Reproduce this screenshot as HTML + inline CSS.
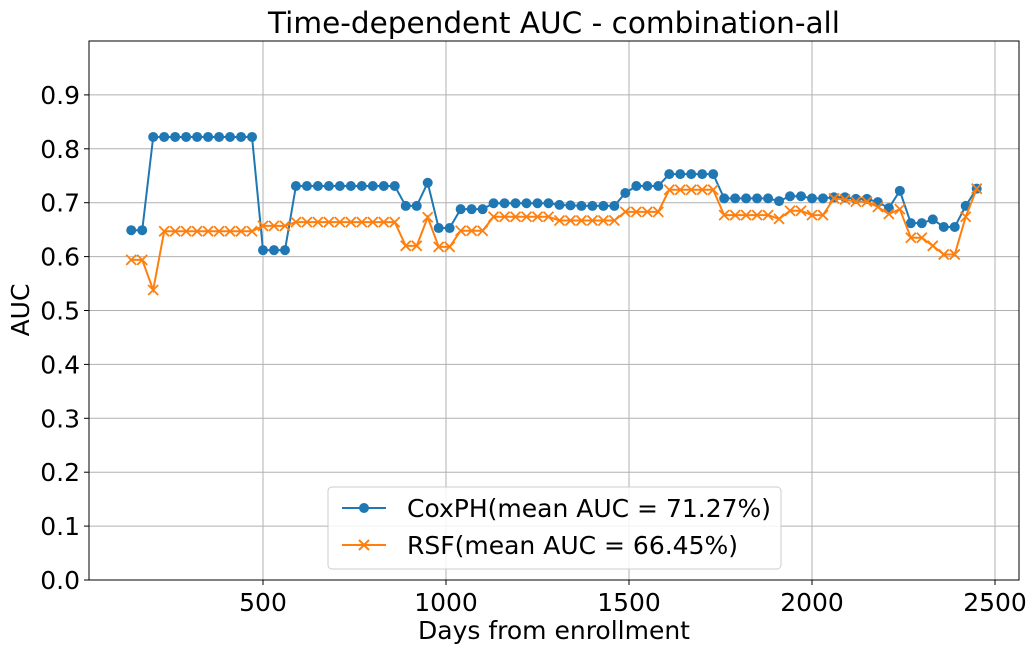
<!DOCTYPE html>
<html><head><meta charset="utf-8"><style>
html,body{margin:0;padding:0;background:#fff;}
svg text{font-family:"DejaVu Sans","Liberation Sans",sans-serif;fill:#000;}
</style></head><body>
<svg id="chart" width="1036" height="653" xmlns="http://www.w3.org/2000/svg">
<rect width="1036" height="653" fill="#fff"/>
<g id="grid"></g>
<g id="series"></g>
<rect x="89" y="41" width="930" height="539" fill="none" stroke="#000" stroke-width="1"/>
<g id="ticks"></g>
<text x="554" y="33" text-anchor="middle" font-size="29.5">Time-dependent AUC - combination-all</text>
<text x="554" y="639" text-anchor="middle" font-size="25">Days from enrollment</text>
<text transform="translate(29,310) rotate(-90)" text-anchor="middle" font-size="25">AUC</text>
<g id="legend">
<rect x="328" y="487" width="453" height="82" rx="4" fill="#fff" fill-opacity="0.85" stroke="#ccc"/>
<line x1="342" y1="508" x2="386" y2="508" stroke="#1f77b4" stroke-width="2"/>
<circle cx="364" cy="508" r="5" fill="#1f77b4"/>
<text x="407" y="517" font-size="25">CoxPH(mean AUC = 71.27%)</text>
<line x1="342" y1="545" x2="386" y2="545" stroke="#ff7f0e" stroke-width="2"/>
<path d="M359,540 L369,550 M369,540 L359,550" stroke="#ff7f0e" stroke-width="2"/>
<text x="407" y="554" font-size="25">RSF(mean AUC = 66.45%)</text>
</g>
</svg>
<script>
const startDay = 140;
const stepDay = 30;
const coxValues = [0.649,0.649,0.822,0.822,0.822,0.822,0.822,0.822,0.822,0.822,0.822,0.822,
0.612,0.612,0.612,0.731,0.731,0.731,0.731,0.731,0.731,0.731,0.731,0.731,0.731,
0.694,0.694,0.737,0.653,0.653,0.688,0.688,0.688,0.699,0.699,0.699,0.699,0.699,0.699,
0.696,0.695,0.694,0.694,0.694,0.694,0.718,0.731,0.731,0.731,0.753,0.753,0.753,0.753,0.753,
0.708,0.708,0.708,0.708,0.708,0.703,0.712,0.712,0.708,0.708,0.710,0.710,0.707,0.707,0.701,0.690,
0.722,0.662,0.662,0.669,0.655,0.655,0.694,0.726];
const rsfValues = [0.594,0.594,0.538,0.647,0.647,0.647,0.647,0.647,0.647,0.647,0.647,0.647,
0.657,0.657,0.657,0.664,0.664,0.664,0.664,0.664,0.664,0.664,0.664,0.664,0.664,
0.620,0.620,0.673,0.618,0.618,0.648,0.648,0.648,0.674,0.674,0.674,0.674,0.674,0.674,
0.667,0.667,0.667,0.667,0.667,0.667,0.683,0.683,0.683,0.683,0.724,0.724,0.724,0.724,0.724,
0.677,0.677,0.677,0.677,0.677,0.670,0.685,0.685,0.677,0.677,0.708,0.706,0.702,0.702,0.692,0.679,
0.688,0.635,0.635,0.620,0.604,0.604,0.674,0.726];
const xTicks = [500,1000,1500,2000,2500];
const yTicks = [0,0.1,0.2,0.3,0.4,0.5,0.6,0.7,0.8,0.9];
const yTickLabels = ["0.0","0.1","0.2","0.3","0.4","0.5","0.6","0.7","0.8","0.9"];

const NS="http://www.w3.org/2000/svg";
const X = d => 80 + (d)*(183/500);
const Y = v => 580 - v*539;
function mk(tag, attrs, parent){const e=document.createElementNS(NS,tag);for(const k in attrs)e.setAttribute(k,attrs[k]);parent.appendChild(e);return e;}
const grid=document.getElementById('grid'), ticks=document.getElementById('ticks'), series=document.getElementById('series');
xTicks.forEach(t=>{
  const gl=mk('line',{x1:X(t),x2:X(t),y1:41,y2:580,stroke:'#b0b0b0','stroke-width':1},grid);
  
  
  mk('line',{x1:X(t),x2:X(t),y1:580,y2:585,stroke:'#000'},ticks);
  const tx=mk('text',{x:X(t),y:611,'text-anchor':'middle','font-size':25},ticks);
  tx.textContent=t;
  
  
});
yTicks.forEach((t,i)=>{
  const gl=mk('line',{x1:89,x2:1019,y1:Y(t),y2:Y(t),stroke:'#b0b0b0','stroke-width':1},grid);
  
  
  mk('line',{x1:84,x2:89,y1:Y(t),y2:Y(t),stroke:'#000'},ticks);
  const tx=mk('text',{x:80,y:Y(t)+9,'text-anchor':'end','font-size':25},ticks);
  tx.textContent=yTickLabels[i];
  
  
});
function draw(vals,color,marker,name){
  const pts=vals.map((v,i)=>[X(startDay+stepDay*i),Y(v)]);
  const pl=mk('polyline',{points:pts.map(p=>p.join(',')).join(' '),fill:'none',stroke:color,'stroke-width':2},series);
  
  
  pts.forEach(p=>{
    let m;
    if(marker==='o'){m=mk('circle',{cx:p[0],cy:p[1],r:5,fill:color},series);}
    else{m=mk('path',{d:`M${p[0]-5},${p[1]-5}L${p[0]+5},${p[1]+5}M${p[0]+5},${p[1]-5}L${p[0]-5},${p[1]+5}`,stroke:color,'stroke-width':1.8,fill:'none'},series);}
    
    
  });
}
draw(coxValues,'#1f77b4','o','coxph');
draw(rsfValues,'#ff7f0e','x','rsf');
</script>
</body></html>
